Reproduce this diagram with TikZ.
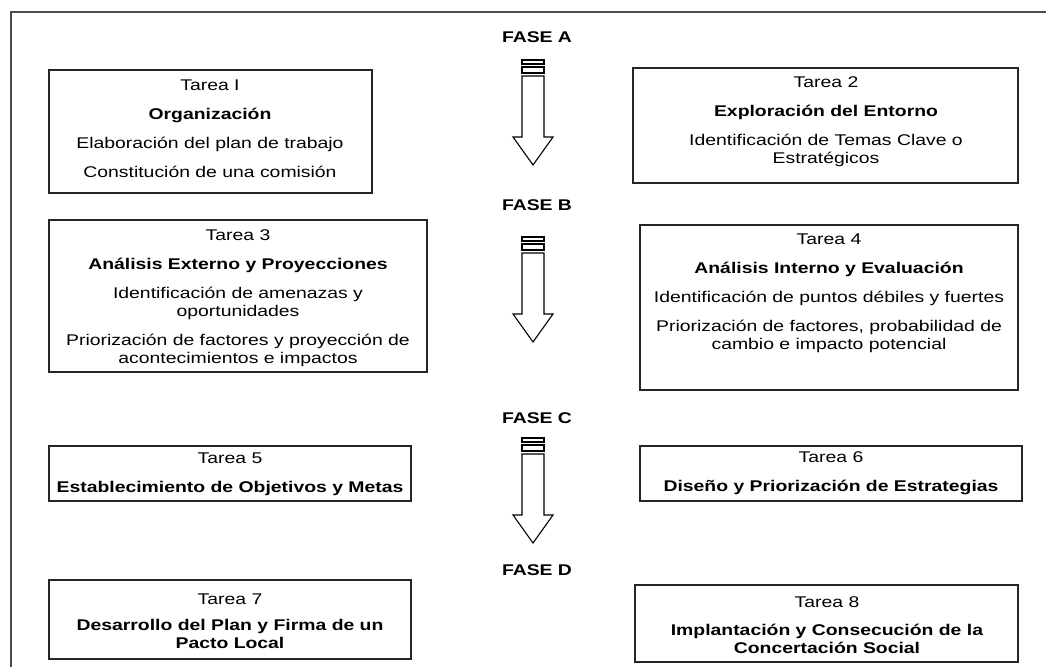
\documentclass[tikz,border=0pt]{standalone}
\usepackage{fontspec}
\setmainfont{Liberation Sans}[FakeStretch=1.25]
\begin{document}
\begin{tikzpicture}[x=1pt,y=-1pt,
  taskbox/.style={draw=black!85, line width=1.4pt, inner sep=0pt},
  tasktext/.style={align=center, font=\fontsize{15.5}{18}\selectfont, inner sep=0pt},
  phase/.style={font=\bfseries\fontsize{15.5}{18}\selectfont, inner sep=0pt},
  phasearrow/.pic={
    \draw[line width=1.1pt, fill=white] (-11,0) rectangle (11,4);
    \draw[line width=1.1pt, fill=white] (-11,7) rectangle (11,13);
    \draw[line width=1.1pt, fill=white, line join=miter]
      (-11,16) -- (-11,77) -- (-20,77) -- (0,105) -- (20,77) -- (11,77) -- (11,16) -- cycle;
  }
]
\useasboundingbox (0,0) rectangle (1046,667);

% outer frame
\draw[draw=black!70, line width=1.3pt] (1046,12) -- (11,12) -- (11,667);

% task boxes
\node[taskbox, minimum width=323pt, minimum height=123pt] (t1) at (210.5,131.5) {};
\node[taskbox, minimum width=385pt, minimum height=115pt] (t2) at (825.5,125.5) {};
\node[taskbox, minimum width=378pt, minimum height=152pt] (t3) at (238,296) {};
\node[taskbox, minimum width=378pt, minimum height=165pt] (t4) at (829,307.5) {};
\node[taskbox, minimum width=362pt, minimum height=55pt] (t5) at (230,473.5) {};
\node[taskbox, minimum width=382pt, minimum height=55pt] (t6) at (831,473.5) {};
\node[taskbox, minimum width=362pt, minimum height=79pt] (t7) at (230,619.5) {};
\node[taskbox, minimum width=383pt, minimum height=77pt] (t8) at (826.5,623.5) {};

% task contents
\node[tasktext] (t1text) at (210,129) {Tarea I\\[11pt]\textbf{Organización}\\[11pt]Elaboración del plan de trabajo\\[11pt]Constitución de una comisión};
\node[tasktext] (t2text) at (826,122) {Tarea 2\\[11pt]\textbf{Exploración del Entorno}\\[11pt]Identificación de Temas Clave o\\Estratégicos};
\node[tasktext] (t3text) at (238,298.5) {Tarea 3\\[11pt]\textbf{Análisis Externo y Proyecciones}\\[11pt]Identificación de amenazas y\\oportunidades\\[11pt]Priorización de factores y proyección de\\acontecimientos e impactos};
\node[tasktext] (t4text) at (829,293) {Tarea 4\\[11pt]\textbf{Análisis Interno y Evaluación}\\[11pt]Identificación de puntos débiles y fuertes\\[11pt]Priorización de factores, probabilidad de\\cambio e impacto potencial};
\node[tasktext] (t5text) at (230,474) {Tarea 5\\[11pt]\textbf{Establecimiento de Objetivos y Metas}};
\node[tasktext] (t6text) at (831,473) {Tarea 6\\[11pt]\textbf{Diseño y Priorización de Estrategias}};
\node[tasktext] (t7text) at (230,621) {Tarea 7\\[8pt]\textbf{Desarrollo del Plan y Firma de un}\\\textbf{Pacto Local}};
\node[tasktext] (t8text) at (827,625) {Tarea 8\\[10pt]\textbf{Implantación y Consecución de la}\\\textbf{Concertación Social}};

% phase labels
\node[phase] (faseA) at (537,37) {FASE A};
\node[phase] (faseB) at (537,205) {FASE B};
\node[phase] (faseC) at (537,418) {FASE C};
\node[phase] (faseD) at (537,570) {FASE D};

% phase arrows
\pic (arrA) at (533,60) {phasearrow};
\pic (arrB) at (533,237) {phasearrow};
\pic (arrC) at (533,438) {phasearrow};
\end{tikzpicture}
\end{document}
